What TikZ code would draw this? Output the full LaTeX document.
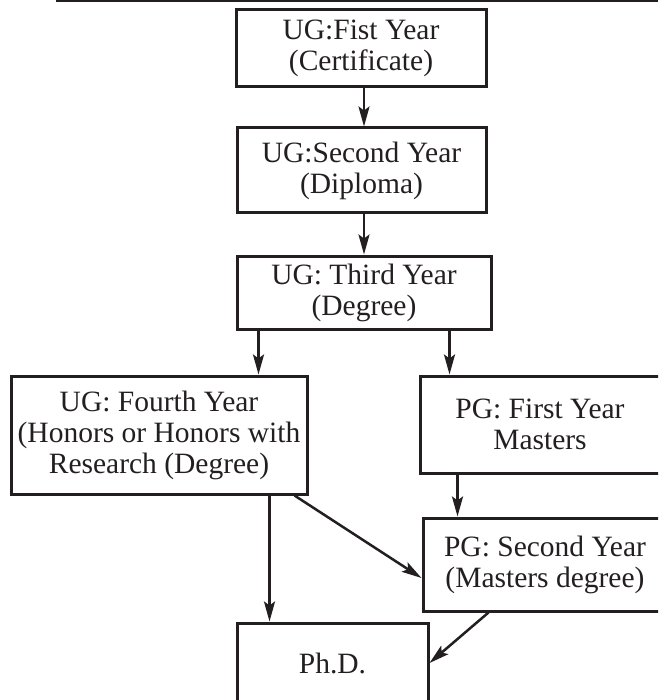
\documentclass[tikz,border=0pt]{standalone}
\usepackage{fontspec}
\setmainfont{Liberation Serif}
\usepackage{tikz}
\usetikzlibrary{arrows.meta,positioning}
\definecolor{ink}{RGB}{35,31,32}

\begin{document}
\begin{tikzpicture}[x=1pt,y=-1pt,
  box/.style={draw=ink, line width=3pt, inner sep=0pt, align=center, text=ink, font=\fontsize{29.5}{31}\selectfont},
  arr/.style={draw=ink, line width=2.5pt, -{Stealth[length=20pt,width=11pt,inset=4pt]}}]
\useasboundingbox (0,0) rectangle (658,700);
\clip (0,0) rectangle (658,700);
\draw[ink, line width=2.2pt] (56,1) -- (658,1);
\node[box, minimum width=250, minimum height=77] (UG1) at (361,48.5) {UG:Fist Year\\(Certificate)};
\node[box, minimum width=249, minimum height=85] (UG2) at (361.5,170.5) {UG:Second Year\\(Diploma)};
\node[box, minimum width=254, minimum height=73] (UG3) at (364,292.5) {UG: Third Year\\(Degree)};
\node[box, minimum width=296, minimum height=118] (UG4) at (159,435) {UG: Fourth Year\\(Honors or Honors with\\Research (Degree)};
\node[box, minimum width=240, minimum height=97] (PG1) at (540,424.5) {PG: First Year\\Masters};
\node[box, minimum width=244, minimum height=93] (PG2) at (545,564.5) {PG: Second Year\\(Masters degree)};
\node[box, minimum width=191, minimum height=80] (PHD) at (332.5,663) {Ph.D.};
\path [arr] ([xshift=3pt]UG1.south) -- ([xshift=3pt]UG1.south |- UG2.north);
\path [arr] ([xshift=2.5pt]UG2.south) -- ([xshift=2.5pt]UG2.south |- UG3.north);
\path [arr] ([xshift=23pt]UG3.south west) -- ([xshift=23pt]UG3.south west |- UG4.north);
\path [arr] ([xshift=-43pt]UG3.south east) -- ([xshift=-43pt]UG3.south east |- PG1.north);
\path [arr] ([xshift=39pt]PG1.south west) -- ([xshift=39pt]PG1.south west |- PG2.north);
\path [arr] ([xshift=-39pt]UG4.south east) -- ([xshift=-39pt]UG4.south east |- PHD.north);
\path [arr] ([xshift=-14pt]UG4.south east) -- ([yshift=-13.5pt]PG2.west);
\path [arr] ([xshift=67pt]PG2.south west) -- (PHD.east);
\end{tikzpicture}
\end{document}
